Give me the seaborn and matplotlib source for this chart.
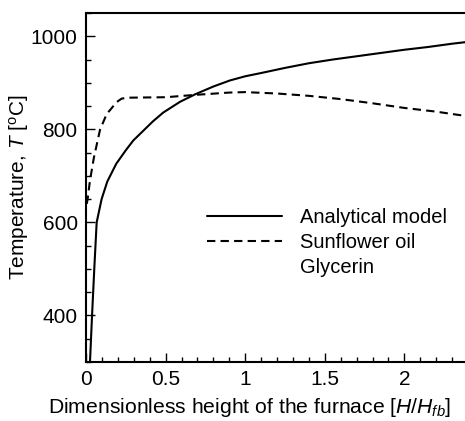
import matplotlib
matplotlib.use("Agg")
import matplotlib.pyplot as plt
from matplotlib.ticker import MultipleLocator
import seaborn as sns

# analytical model (solid)
x_model = [0.025, 0.038, 0.052, 0.067, 0.098, 0.134, 0.19, 0.25, 0.297, 0.36,
           0.42, 0.485, 0.59, 0.684, 0.8, 0.904, 1.0, 1.1, 1.25, 1.4, 1.55,
           1.7, 1.85, 2.0, 2.15, 2.3, 2.4]
t_model = [300, 400, 500, 600, 650, 688, 726, 755, 776, 797,
           817, 836, 859, 875, 892, 905, 914, 921, 932, 942, 950,
           957, 964, 971, 977, 984, 988]

# sunflower oil (dashed)
x_oil = [0.005, 0.01, 0.025, 0.05, 0.088, 0.13, 0.16, 0.19, 0.224, 0.26, 0.5,
         0.684, 0.9, 1.0, 1.2, 1.4, 1.6, 1.8, 2.0, 2.2, 2.4]
t_oil = [640, 650, 690, 740, 799, 833, 845, 858, 866, 868, 869,
         874, 879, 880, 877, 872, 865, 856, 846, 838, 828]

# glycerin - nothing drawn
x_gly = []
t_gly = []

sns.set_style("ticks")
plt.rcParams['font.family'] = ['Liberation Sans', 'DejaVu Sans']
plt.rcParams['mathtext.fontset'] = 'custom'
plt.rcParams['mathtext.rm'] = 'Liberation Sans'
plt.rcParams['mathtext.it'] = 'Liberation Sans:italic'
plt.rcParams['text.color'] = 'black'
plt.rcParams['axes.labelcolor'] = 'black'

fig = plt.figure(figsize=(4.65, 4.21), dpi=100)
ax = fig.add_axes([86/465, 1-362/421, 382/465, 349/421])

sns.lineplot(x=x_model, y=t_model, ax=ax, color='black', lw=1.5,
             sort=False, estimator=None, label='Analytical model')
sns.lineplot(x=x_oil, y=t_oil, ax=ax, color='black', lw=1.5,
             sort=False, estimator=None, label='Sunflower oil')
ax.lines[-1].set_dashes((4, 2.5))
ax.plot(x_gly, t_gly, ls='none', label='Glycerin')

ax.set_xlim(0, 2.4)
ax.set_ylim(300, 1050)
ax.xaxis.set_minor_locator(MultipleLocator(0.1))
ax.yaxis.set_major_locator(MultipleLocator(200))
ax.yaxis.set_minor_locator(MultipleLocator(50))
ax.set_xticks([0, 0.5, 1, 1.5, 2])
ax.set_xticklabels(['0', '0.5', '1', '1.5', '2'])
ax.tick_params(which='both', direction='in', width=1, colors='black',
               top=False, right=False, labelsize=15)
ax.tick_params(which='major', length=6.5, pad=6)
ax.tick_params(which='minor', length=3.5)
for s in ['left', 'bottom', 'top']:
    ax.spines[s].set_linewidth(1.5)
    ax.spines[s].set_color('black')
ax.spines['right'].set_visible(False)

ax.set_xlabel('Dimensionless height of the furnace [$H$/$H_{fb}$]', fontsize=15.2, labelpad=5)
ax.xaxis.label.set_x(0.428)
ax.set_ylabel('Temperature, $T$ [$^{\\rm o}$C]', fontsize=15, labelpad=0)

ax.legend(loc='upper left', bbox_to_anchor=(0.317, 0.44), frameon=False,
          fontsize=14.5, handlelength=3.7, handletextpad=0.9, borderpad=0,
          borderaxespad=0, labelspacing=0.28)

fig.savefig('out.png', dpi=100)
